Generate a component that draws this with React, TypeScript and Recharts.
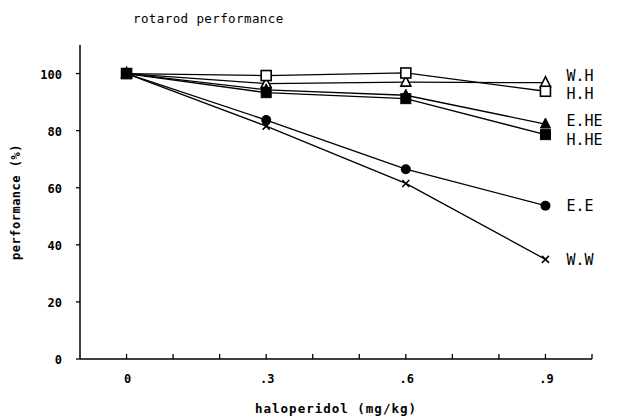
import React from "react";
import { LineChart, Line, XAxis, YAxis, Label } from "recharts";

const doses = [0, 0.3, 0.6, 0.9];
const seriesWH = [100, 96.5, 97, 96.8];
const seriesHH = [100, 99.3, 100.2, 93.8];
const seriesEHE = [100, 94.3, 92.4, 82.3];
const seriesHHE = [100, 93.3, 91.2, 78.6];
const seriesEE = [100, 83.7, 66.5, 53.7];
const seriesWW = [100, 81.6, 61.5, 34.9];

const xTicks = [0, 0.1, 0.2, 0.3, 0.4, 0.5, 0.6, 0.7, 0.8, 0.9, 1.0];
const xTickLabels: Record<string, string> = { "0": "0", "0.3": ".3", "0.6": ".6", "0.9": ".9" };
const yTicks = [0, 20, 40, 60, 80, 100];

const data = doses.map((d, i) => ({
  x: d,
  WH: seriesWH[i],
  HH: seriesHH[i],
  EHE: seriesEHE[i],
  HHE: seriesHHE[i],
  EE: seriesEE[i],
  WW: seriesWW[i],
}));

const FONT = "'DejaVu Sans Mono', monospace";

type Shape = "openTri" | "openSq" | "fillTri" | "fillSq" | "fillCirc" | "cross";

const makeDot = (shape: Shape) => (props: any) => {
  const { cx, cy, index } = props;
  if (cx == null || cy == null) return <g key={index} />;
  const s = 5;
  switch (shape) {
    case "openSq":
      return <rect key={index} x={cx - s} y={cy - s} width={2 * s} height={2 * s} fill="#fff" stroke="#000" strokeWidth={1.6} />;
    case "fillSq":
      return <rect key={index} x={cx - s} y={cy - s} width={2 * s} height={2 * s} fill="#000" stroke="#000" />;
    case "openTri":
      return <polygon key={index} points={`${cx},${cy - s - 1} ${cx + s},${cy + s - 1} ${cx - s},${cy + s - 1}`} fill="#fff" stroke="#000" strokeWidth={1.6} />;
    case "fillTri":
      return <polygon key={index} points={`${cx},${cy - s - 1} ${cx + s},${cy + s - 1} ${cx - s},${cy + s - 1}`} fill="#000" stroke="#000" />;
    case "fillCirc":
      return <circle key={index} cx={cx} cy={cy} r={s} fill="#000" />;
    case "cross":
      return (
        <g key={index} stroke="#000" strokeWidth={1.6}>
          <line x1={cx - 3.5} y1={cy - 3.5} x2={cx + 3.5} y2={cy + 3.5} />
          <line x1={cx - 3.5} y1={cy + 3.5} x2={cx + 3.5} y2={cy - 3.5} />
        </g>
      );
  }
  return <g key={index} />;
};

const makeEndLabel = (name: string, dy: number) => (props: any) => {
  const { x, y, index } = props;
  if (index !== doses.length - 1) return null;
  return (
    <text x={x + 21} y={y + dy} dominantBaseline="central" fontFamily={FONT} fontSize={15} fill="#000">
      {name}
    </text>
  );
};

const XTick = (props: any) => {
  const { x, y, payload } = props;
  const key = String(Math.round(payload.value * 10) / 10);
  const label = xTickLabels[key];
  return (
    <g>
      <line x1={x} y1={y} x2={x} y2={y - 5} stroke="#000" strokeWidth={1.3} />
      {label ? (
        <text x={x + 1} y={y + 20} textAnchor="middle" dominantBaseline="central" fontFamily={FONT} fontSize={12} fontWeight="bold" fill="#000">
          {label}
        </text>
      ) : null}
    </g>
  );
};

const YTick = (props: any) => {
  const { x, y, payload } = props;
  return (
    <g>
      <line x1={x} y1={y} x2={x - 4} y2={y} stroke="#000" strokeWidth={1.3} />
      <text x={x - 18} y={y + 1} textAnchor="end" dominantBaseline="central" fontFamily={FONT} fontSize={12} fontWeight="bold" fill="#000">
        {payload.value}
      </text>
    </g>
  );
};

const seriesDefs: { key: string; name: string; shape: Shape; dy: number }[] = [
  { key: "WW", name: "W.W", shape: "cross", dy: 1 },
  { key: "EE", name: "E.E", shape: "fillCirc", dy: 0 },
  { key: "WH", name: "W.H", shape: "openTri", dy: -7 },
  { key: "HH", name: "H.H", shape: "openSq", dy: 2.5 },
  { key: "EHE", name: "E.HE", shape: "fillTri", dy: -3 },
  { key: "HHE", name: "H.HE", shape: "fillSq", dy: 5 },
];

export default function App() {
  return (
    <div style={{ position: "absolute", left: 0, top: 0, width: 631, height: 419, background: "#fff" }}>
      <LineChart width={631} height={419} data={data} margin={{ top: 45, right: 39, bottom: 0, left: 0 }}>
        <XAxis
          dataKey="x"
          type="number"
          domain={[-0.1, 1.0]}
          ticks={xTicks}
          interval={0}
          height={60}
          tick={<XTick />}
          tickLine={false}
          tickSize={0}
          tickMargin={0}
          axisLine={{ stroke: "#000", strokeWidth: 1.5 }}
          allowDataOverflow
        >
          <Label
            value="haloperidol (mg/kg)"
            position="insideBottom"
            offset={6}
            style={{ fontFamily: FONT, fontSize: 12.5, fontWeight: "bold", fill: "#000", letterSpacing: 1 }}
          />
        </XAxis>
        <YAxis
          type="number"
          domain={[0, 110]}
          ticks={yTicks}
          interval={0}
          width={80}
          tick={<YTick />}
          tickLine={false}
          tickSize={0}
          tickMargin={0}
          axisLine={{ stroke: "#000", strokeWidth: 1.5 }}
          allowDataOverflow
        >
          <Label
            value="performance (%)"
            angle={-90}
            position="insideLeft"
            offset={16}
            style={{ fontFamily: FONT, fontSize: 12, fontWeight: "bold", fill: "#000", textAnchor: "middle", letterSpacing: 0.5 }}
          />
        </YAxis>
        {seriesDefs.map((s) => (
          <Line
            key={s.key}
            dataKey={s.key}
            stroke="#000"
            strokeWidth={1.3}
            dot={makeDot(s.shape)}
            activeDot={false}
            label={makeEndLabel(s.name, s.dy)}
            isAnimationActive={false}
          />
        ))}
        <text x={133} y={18} dominantBaseline="central" fontFamily={FONT} fontSize={12.5} fill="#000" letterSpacing={0.4}>
          rotarod performance
        </text>
      </LineChart>
    </div>
  );
}
